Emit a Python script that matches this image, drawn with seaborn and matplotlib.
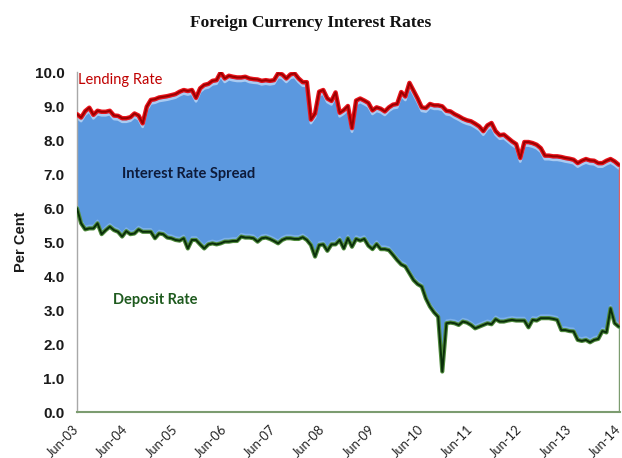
import matplotlib
matplotlib.use("Agg")
import matplotlib.pyplot as plt
import matplotlib.patheffects as pe
import matplotlib.transforms as mtransforms
import seaborn as sns
import pandas as pd
import numpy as np

tick_labels = ["Jun-03", "Jun-04", "Jun-05", "Jun-06", "Jun-07", "Jun-08",
               "Jun-09", "Jun-10", "Jun-11", "Jun-12", "Jun-13", "Jun-14"]

lending = [8.76, 8.66, 8.85, 8.95, 8.74, 8.86, 8.83, 8.83, 8.86, 8.72, 8.71, 8.64,
           8.64, 8.67, 8.78, 8.72, 8.49, 8.98, 9.18, 9.20, 9.25, 9.27, 9.29, 9.32,
           9.35, 9.42, 9.47, 9.44, 9.47, 9.24, 9.52, 9.62, 9.65, 9.74, 9.76, 9.99,
           9.81, 9.89, 9.86, 9.84, 9.84, 9.86, 9.81, 9.79, 9.78, 9.74, 9.76, 9.74,
           9.76, 9.96, 9.93, 9.81, 9.93, 9.96, 9.81, 9.70, 9.70, 8.60, 8.78, 9.42,
           9.47, 9.22, 9.15, 9.40, 8.80, 8.88, 9.00, 8.35, 9.16, 9.22, 9.16, 9.09,
           8.87, 8.96, 8.92, 8.84, 8.96, 9.04, 9.06, 9.41, 9.28, 9.68, 9.45, 9.22,
           8.96, 8.94, 9.06, 9.02, 9.02, 8.99, 8.86, 8.84, 8.76, 8.70, 8.63, 8.58,
           8.55, 8.48, 8.40, 8.26, 8.43, 8.50, 8.26, 8.14, 8.16, 8.06, 7.96, 7.88,
           7.47, 7.94, 7.94, 7.91, 7.86, 7.76, 7.54, 7.54, 7.52, 7.52, 7.50, 7.47,
           7.45, 7.42, 7.32, 7.39, 7.44, 7.40, 7.39, 7.32, 7.32, 7.39, 7.44, 7.37,
           7.27]

deposit = [5.99, 5.55, 5.37, 5.40, 5.40, 5.55, 5.23, 5.35, 5.45, 5.35, 5.30, 5.16,
           5.32, 5.23, 5.25, 5.37, 5.30, 5.30, 5.30, 5.11, 5.25, 5.23, 5.13, 5.11,
           5.06, 5.04, 5.11, 4.81, 5.06, 5.06, 4.93, 4.81, 4.93, 4.96, 4.93, 4.96,
           5.01, 5.01, 5.03, 5.03, 5.16, 5.13, 5.13, 5.11, 5.01, 5.11, 5.13, 5.09,
           5.03, 4.96, 5.06, 5.11, 5.11, 5.09, 5.09, 5.14, 5.06, 4.91, 4.57, 4.91,
           4.93, 4.74, 4.93, 4.93, 5.06, 4.81, 5.11, 4.86, 5.09, 5.04, 5.09, 4.89,
           4.79, 4.94, 4.79, 4.79, 4.76, 4.62, 4.47, 4.34, 4.28, 4.08, 3.88, 3.76,
           3.69, 3.34, 3.10, 2.93, 2.80, 1.19, 2.61, 2.63, 2.61, 2.56, 2.66, 2.63,
           2.56, 2.46, 2.51, 2.56, 2.61, 2.58, 2.73, 2.66, 2.66, 2.69, 2.71, 2.69,
           2.69, 2.69, 2.49, 2.71, 2.69, 2.76, 2.76, 2.76, 2.74, 2.71, 2.41, 2.41,
           2.38, 2.37, 2.12, 2.09, 2.12, 2.05, 2.12, 2.15, 2.38, 2.34, 3.05, 2.61,
           2.51]

df = pd.DataFrame({"month": np.arange(len(lending)),
                   "lending": lending, "deposit": deposit})

sns.set_theme(style="white")
plt.rcParams["font.family"] = ["Liberation Sans", "DejaVu Sans"]

fig = plt.figure(figsize=(6.22, 4.58), dpi=100)
ax = fig.add_axes([77 / 622, 1 - 412 / 458, 543 / 622, 340 / 458])

x = df["month"].to_numpy()
ax.fill_between(x, df["deposit"], df["lending"], color="#5B98DF", lw=0, zorder=1)

# soft light band just under lending line
off = mtransforms.offset_copy(ax.transData, fig=fig, x=0, y=-2.5, units="points")
ax.plot(x, df["lending"], color="#A9CBF2", lw=2.0, transform=off, zorder=2)
off2 = mtransforms.offset_copy(ax.transData, fig=fig, x=0, y=2.0, units="points")
ax.plot(x, df["deposit"], color="#7DB0EA", lw=1.5, transform=off2, zorder=2)

sns.lineplot(data=df, x="month", y="lending", ax=ax, color="#9B0000", lw=1.4,
             zorder=4,
             path_effects=[pe.Stroke(linewidth=3.2, foreground="#E8141C"), pe.Normal()])
sns.lineplot(data=df, x="month", y="deposit", ax=ax, color="#0A2F0A", lw=1.4,
             zorder=4,
             path_effects=[pe.Stroke(linewidth=3.0, foreground="#4F8A3C"), pe.Normal()])

last = x[-1]
ax.plot([last, last], [deposit[-1], lending[-1]], color="#E06060", lw=1.0, zorder=3)
ax.plot([last, last], [0, deposit[-1]], color="#7C9C70", lw=1.0, zorder=3)

ax.set_xlim(0, last + 0.3)
ax.set_ylim(0, 10)
ax.set_yticks(np.arange(0, 10.5, 1.0))
ax.set_yticklabels([f"{v:.1f}" for v in np.arange(0, 10.5, 1.0)],
                   fontsize=11, fontweight="bold", color="#1A1A1A")
ax.set_xticks(np.arange(0, len(lending), 12))
ax.set_xticklabels(tick_labels, rotation=45, ha="right", va="center",
                   rotation_mode="anchor",
                   fontsize=9.3, family=["Lato", "DejaVu Sans"], color="#222222")
ax.tick_params(axis="y", length=0, pad=9)
ax.tick_params(axis="x", length=0, pad=11)
ax.set_xlabel("")
ax.set_ylabel("Per Cent", fontsize=10.5, fontweight="bold", color="#1A1A1A", labelpad=5)

for s in ["top", "right"]:
    ax.spines[s].set_visible(False)
ax.spines["left"].set_color("#A8A8A8")
ax.spines["left"].set_linewidth(1.0)
ax.spines["bottom"].set_color("#7C9C70")
ax.spines["bottom"].set_linewidth(1.5)

fig.text(0.5, 1 - 23 / 458, "Foreign Currency Interest Rates", ha="center", va="center",
         fontsize=12.5, fontweight="bold", family=["Liberation Serif", "DejaVu Serif"],
         color="#111111")

ax.text(0.2, 9.76, "Lending Rate", color="#C00000", fontsize=10.5,
        family=["Lato", "DejaVu Sans"], va="center", ha="left")
ax.text(11, 7.0, "Interest Rate Spread", color="#0E1B3A", fontsize=10.5,
        family=["Lato", "DejaVu Sans"], fontweight="bold", va="center", ha="left")
ax.text(8.8, 3.3, "Deposit Rate", color="#1E5A1E", fontsize=10.5,
        family=["Lato", "DejaVu Sans"], fontweight="bold", va="center", ha="left")

fig.savefig("out.png", dpi=100)
